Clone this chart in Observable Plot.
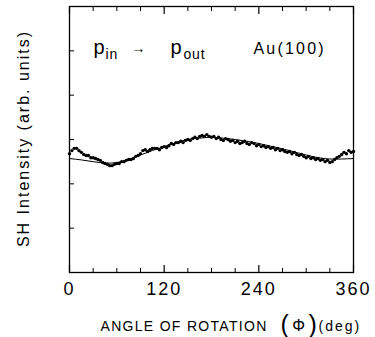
<!DOCTYPE html>
<html>
<head>
<meta charset="utf-8">
<script src="https://cdn.jsdelivr.net/npm/d3@7"></script>
<script src="https://cdn.jsdelivr.net/npm/@observablehq/plot@0.6"></script>
<style>
  html, body { margin: 0; padding: 0; background: #fff; }
</style>
</head>
<body>
<div id="chart"></div>
<script>
// Measured SH intensity (dots), angle in degrees
const angles = [0,3,6,9,12,15,18,21,24,27,30,33,36,39,42,45,48,51,54,57,60,63,66,69,72,75,78,81,84,87,90,93,96,99,102,105,108,111,114,117,120,123,126,129,132,135,138,141,144,147,150,153,156,159,162,165,168,171,174,177,180,183,186,189,192,195,198,201,204,207,210,213,216,219,222,225,228,231,234,237,240,243,246,249,252,255,258,261,264,267,270,273,276,279,282,285,288,291,294,297,300,303,306,309,312,315,318,321,324,327,330,333,336,339,342,345,348,351,354,357,360];
const intensity = [2.68,2.75,2.80,2.80,2.75,2.71,2.66,2.64,2.64,2.59,2.59,2.57,2.55,2.53,2.48,2.46,2.44,2.41,2.41,2.44,2.46,2.46,2.50,2.50,2.53,2.55,2.55,2.57,2.62,2.64,2.68,2.75,2.77,2.73,2.77,2.80,2.80,2.80,2.77,2.82,2.84,2.82,2.86,2.91,2.89,2.93,2.93,2.96,2.93,2.98,3.00,2.98,3.02,3.05,3.02,3.07,3.09,3.07,3.11,3.07,3.05,3.07,3.02,3.05,3.00,2.98,3.02,3.00,2.96,2.98,2.93,2.96,2.91,2.93,2.96,2.91,2.89,2.93,2.91,2.86,2.89,2.84,2.86,2.82,2.84,2.80,2.82,2.77,2.80,2.75,2.77,2.73,2.71,2.73,2.68,2.71,2.66,2.64,2.66,2.62,2.59,2.62,2.57,2.59,2.55,2.57,2.53,2.55,2.50,2.53,2.48,2.50,2.55,2.59,2.62,2.66,2.71,2.68,2.75,2.71,2.73];

// Fitted curve (thin line)
const fitAngles = [0,15,30,45,60,75,90,105,120,135,150,165,180,195,210,225,240,255,270,285,300,315,330,345,360];
const fitValues = [2.57,2.54,2.50,2.47,2.48,2.55,2.65,2.75,2.84,2.93,3.00,3.03,3.05,3.03,3.00,2.96,2.91,2.85,2.79,2.72,2.65,2.59,2.56,2.56,2.57];

// Axes
const xDomain = [0, 360];
const yDomain = [0, 6];
const xMajorTicks = [0, 120, 240, 360];
const xMinorTicks = [30, 60, 90, 150, 180, 210, 270, 300, 330];
const yTicks = [1, 2, 3, 4, 5];

const xTitle = "ANGLE OF ROTATION";
const yTitle = "SH Intensity (arb. units)";
const sampleLabel = "Au(100)";

const dots = angles.map((a, i) => ({deg: a, val: intensity[i]}));
const fit = fitAngles.map((a, i) => ({deg: a, val: fitValues[i]}));

const font = "Liberation Sans, Arial, sans-serif";
const lbl = (text, opts) => Plot.text([text], {frameAnchor: "top-left", textAnchor: "start", lineAnchor: "bottom", fill: "black", fontFamily: font, ...opts});

const chart = Plot.plot({
  width: 375,
  height: 337,
  marginLeft: 69,
  marginRight: 22,
  marginTop: 6,
  marginBottom: 65,
  style: {fontFamily: font, background: "white", color: "black"},
  x: {domain: xDomain},
  y: {domain: yDomain},
  marks: [
    Plot.axisX({anchor: "bottom", ticks: xMinorTicks, tickSize: -4, tickFormat: () => "", label: null, strokeWidth: 1}),
    Plot.axisX({anchor: "bottom", ticks: xMajorTicks, tickSize: -7, tickFormat: () => "", label: null, strokeWidth: 1.2}),
    Plot.axisX({anchor: "top", ticks: xMinorTicks, tickSize: -4, tickFormat: () => "", label: null, strokeWidth: 1}),
    Plot.axisX({anchor: "top", ticks: xMajorTicks, tickSize: -7, tickFormat: () => "", label: null, strokeWidth: 1.2}),
    Plot.axisX({anchor: "bottom", ticks: xMajorTicks, tickSize: 0, tickPadding: 10, fontSize: 18, label: null}),
    Plot.axisY({anchor: "left", ticks: yTicks, tickSize: -5, tickFormat: () => "", label: null}),
    Plot.frame({stroke: "black", strokeWidth: 1.3}),
    Plot.line(fit, {x: "deg", y: "val", curve: "natural", stroke: "black", strokeWidth: 1}),
    Plot.dot(dots, {x: "deg", y: "val", r: 1.7, fill: "black", stroke: "none"}),
    // y-axis title
    Plot.text([yTitle], {frameAnchor: "left", textAnchor: "middle", lineAnchor: "middle", rotate: -90, dx: -46, dy: -1, fontSize: 16, fill: "black", fontFamily: font}),
    // x-axis title
    Plot.text([xTitle], {frameAnchor: "bottom-left", textAnchor: "start", lineAnchor: "bottom", dx: 31, dy: 58, fontSize: 14, fill: "black", fontFamily: font}),
    Plot.text(["("], {frameAnchor: "bottom-left", textAnchor: "start", lineAnchor: "bottom", dx: 211, dy: 60, fontSize: 25, fill: "black", fontFamily: font}),
    Plot.text(["Φ"], {frameAnchor: "bottom-left", textAnchor: "middle", lineAnchor: "bottom", dx: 229, dy: 58, fontSize: 16, fill: "black", fontFamily: font}),
    Plot.text([")"], {frameAnchor: "bottom-left", textAnchor: "start", lineAnchor: "bottom", dx: 239, dy: 60, fontSize: 25, fill: "black", fontFamily: font}),
    Plot.text(["(deg)"], {frameAnchor: "bottom-left", textAnchor: "start", lineAnchor: "bottom", dx: 249, dy: 58, fontSize: 14, fill: "black", fontFamily: font}),
    // annotation p_in -> p_out, Au(100)
    lbl("p", {dx: 24, dy: 47, fontSize: 20}),
    lbl("in", {dx: 36, dy: 52, fontSize: 14}),
    lbl("→", {dx: 62, dy: 46, fontSize: 14}),
    lbl("p", {dx: 101, dy: 47, fontSize: 20}),
    lbl("out", {dx: 114, dy: 52, fontSize: 14}),
    lbl(sampleLabel, {dx: 184, dy: 47, fontSize: 16})
  ]
});

// letter spacing to mimic the wide plotter lettering
const spacing = new Map([
  [xTitle, "1.3px"],
  [yTitle, "2px"],
  [sampleLabel, "2.2px"],
  ["(deg)", "2px"],
  ["in", "0.8px"],
  ["out", "0.8px"],
  ["0", "2px"], ["120", "2px"], ["240", "2px"], ["360", "2px"]
]);
d3.select(chart).selectAll("text").each(function () {
  const s = spacing.get(this.textContent);
  if (s) this.style.letterSpacing = s;
});
document.getElementById("chart").appendChild(chart);
</script>
</body>
</html>
